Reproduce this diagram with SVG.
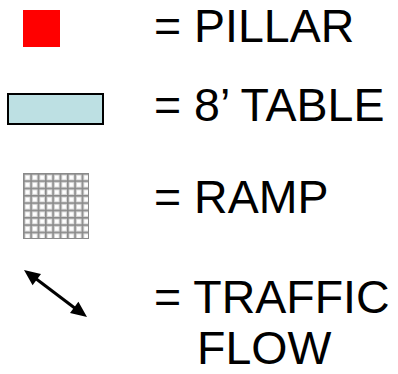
<svg xmlns="http://www.w3.org/2000/svg" width="398" height="374" viewBox="0 0 398 374">
<style>
.lbl{font-family:"Liberation Sans",Arial,sans-serif;font-size:46.5px;fill:#000}
</style>
<defs>
<pattern id="grid" x="23" y="173" width="7.33" height="7.33" patternUnits="userSpaceOnUse">
<rect width="7.33" height="7.33" fill="#8a8a8a"/>
<rect x="1.6" y="1.6" width="5.73" height="5.73" fill="#d6d6d6"/>
<rect x="2.6" y="2.6" width="3.7" height="3.7" fill="#ffffff"/>
</pattern>
</defs>
<rect width="398" height="374" fill="#fff"/>
<g id="pillar">
<rect x="23" y="10" width="37" height="37" fill="#ff0000"/>
<text class="lbl" x="154" y="42">= PILLAR</text>
</g>
<g id="table">
<rect x="8" y="94" width="95" height="30" fill="#bde0e3" stroke="#000" stroke-width="2"/>
<text class="lbl" x="154" y="121">= 8’ TABLE</text>
</g>
<g id="ramp">
<rect x="23" y="173" width="66" height="66" fill="url(#grid)"/>
<rect x="23.5" y="173.5" width="65" height="65" fill="none" stroke="#8a8a8a" stroke-width="1"/>
<text class="lbl" x="154" y="213">= RAMP</text>
</g>
<g id="connectors">
<line x1="35" y1="278" x2="76" y2="309" stroke="#000" stroke-width="3"/>
<polygon points="24,270 41,274 32.6,285.2" fill="#000"/>
<polygon points="87,317 70,313 78.4,301.8" fill="#000"/>
</g>
<g id="traffic">
<text class="lbl" x="154" y="313">= TRAFFIC</text>
<text class="lbl" x="197" y="364">FLOW</text>
</g>
</svg>
